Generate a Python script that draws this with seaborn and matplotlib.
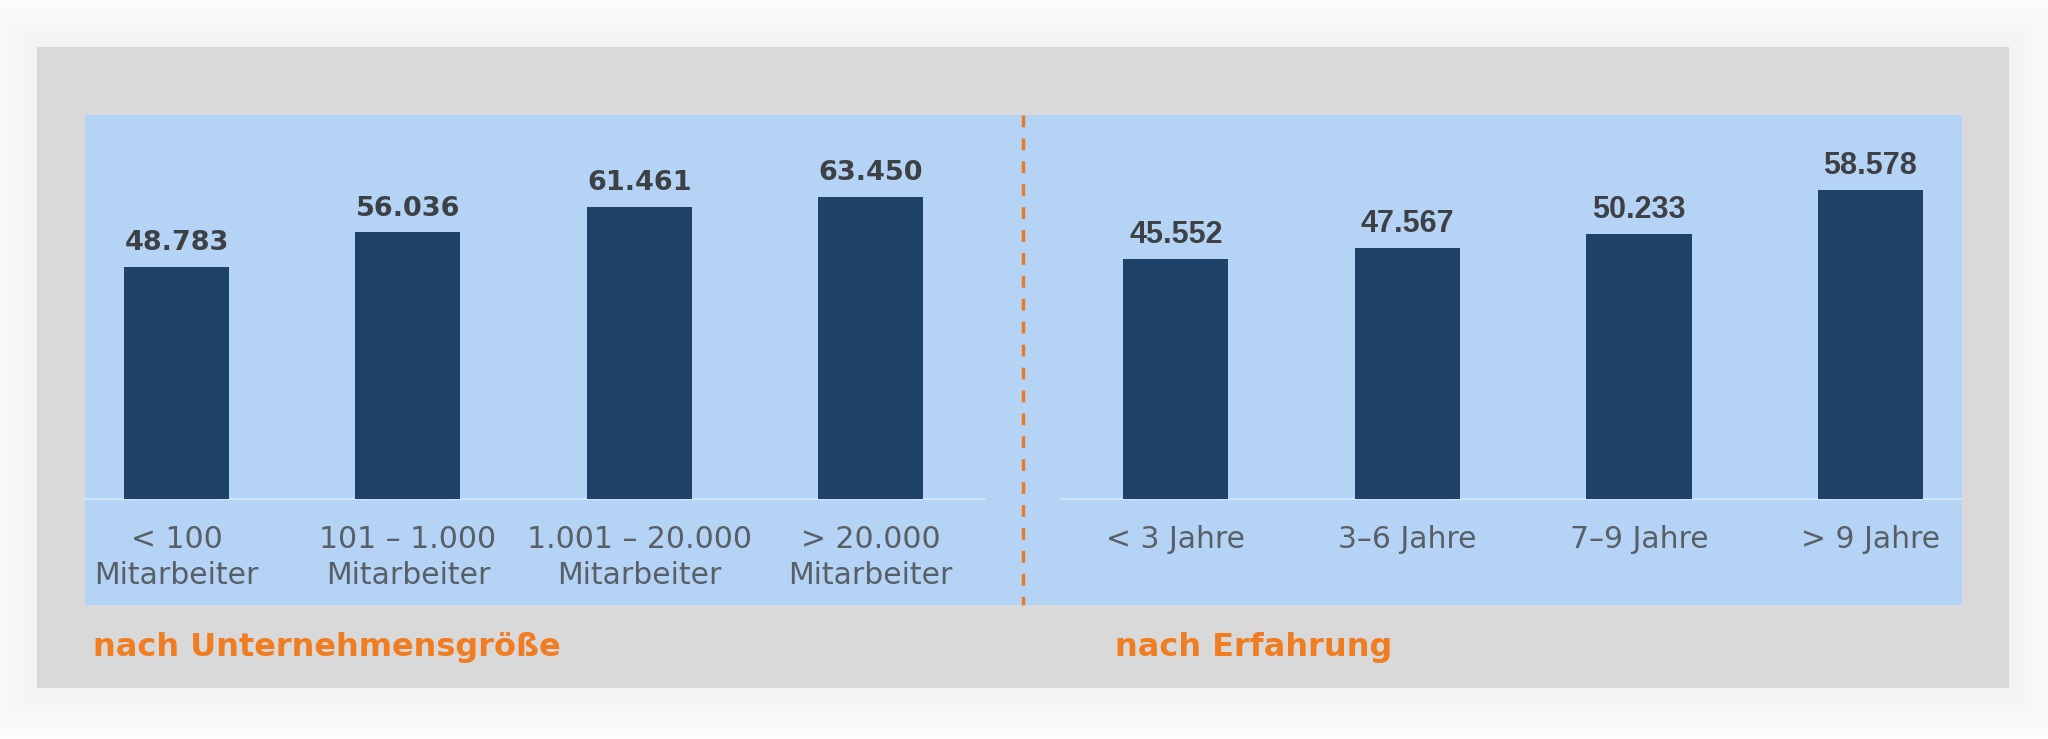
import matplotlib
matplotlib.use('Agg')
import matplotlib.pyplot as plt
import seaborn as sns
import pandas as pd
from matplotlib.patches import Rectangle
from matplotlib.lines import Line2D

# ---- data ----
size_labels = ['< 100\nMitarbeiter', '101 – 1.000\nMitarbeiter',
               '1.001 – 20.000\nMitarbeiter', '> 20.000\nMitarbeiter']
size_values = [48.783, 56.036, 61.461, 63.450]
exp_labels = ['< 3 Jahre', '3–6 Jahre', '7–9 Jahre', '> 9 Jahre']
exp_values = [45.552, 47.567, 50.233, 58.578]
size_title = 'nach Unternehmensgröße'
exp_title = 'nach Erfahrung'

# ---- style ----
sns.set_theme(style='white')
plt.rcParams['font.family'] = ['DejaVu Sans']

BAR = '#1f4269'
BLUE = '#b5d4f5'
GRAY = '#d9d9d9'
ORANGE = '#f07d22'
VALCOL = '#3d4045'
TICKCOL = '#585f67'
BASE = '#cde2f8'

W, H = 2048, 739
fig = plt.figure(figsize=(W / 100, H / 100), dpi=100)
fig.patch.set_facecolor('white')

def fx(px):
    return px / W

def fy(py):
    return 1 - py / H

# soft shadow around gray panel
for k in range(12, 0, -1):
    d = k * 5
    fig.patches.append(Rectangle((fx(37 - d), fy(688 + d)), fx(1972 + 2 * d), (641 + 2 * d) / H,
                                 transform=fig.transFigure, facecolor='black', alpha=0.0035,
                                 edgecolor='none', zorder=-12))
# gray panel
fig.patches.append(Rectangle((fx(37), fy(688)), fx(1972), 641 / H, transform=fig.transFigure,
                             facecolor=GRAY, edgecolor='none', zorder=-10))
# blue panel
fig.patches.append(Rectangle((fx(85), fy(605)), fx(1877), 490 / H, transform=fig.transFigure,
                             facecolor=BLUE, edgecolor='none', zorder=-9))

ax_bottom = fy(499)
ax_h = 384 / H
ax1 = fig.add_axes([fx(85), ax_bottom, fx(900), ax_h])
ax2 = fig.add_axes([fx(1060), ax_bottom, fx(902), ax_h])

panels = [
    (ax1, size_labels, size_values, 80.7, (-0.396, 3.495), 'DejaVu Sans', 19.5, 12),
    (ax2, exp_labels, exp_values, 72.9, (-0.50, 3.395), 'Liberation Sans', 22, 11.5),
]

for ax, labels, values, ytop, xl, vfont, vsize, voff in panels:
    df = pd.DataFrame({'cat': labels, 'val': values})
    sns.barplot(data=df, x='cat', y='val', order=labels, ax=ax, color=BAR,
                saturation=1, width=0.454, edgecolor='none')
    ax.set_facecolor('none')
    ax.set_xlim(*xl)
    ax.set_ylim(0, ytop)
    for s in ax.spines.values():
        s.set_visible(False)
    ax.axhline(0, color=BASE, lw=1.5, clip_on=False, zorder=0.5)
    ax.set_yticks([])
    ax.set_xlabel('')
    ax.set_ylabel('')
    ax.set_xticks(range(len(labels)))
    ax.set_xticklabels(labels, fontsize=21.5, color=TICKCOL, linespacing=1.3,
                       family='DejaVu Sans')
    ax.tick_params(axis='x', length=0, pad=19)
    for i, v in enumerate(values):
        ax.annotate(f'{v:.3f}', xy=(i, v), xytext=(0, voff), textcoords='offset points',
                    ha='center', va='baseline', fontsize=vsize, fontweight='bold',
                    color=VALCOL, family=vfont)

# dashed separator
fig.lines.append(Line2D([fx(1023), fx(1023)], [fy(115), fy(605)], transform=fig.transFigure,
                        color='#ea7a26', lw=2.5, linestyle=(0, (3.4, 3.2)), zorder=5))

# section titles
fig.text(fx(93), fy(656), size_title, fontsize=23, fontweight='bold', color=ORANGE,
         va='baseline', ha='left', family='DejaVu Sans')
fig.text(fx(1115), fy(656), exp_title, fontsize=23, fontweight='bold', color=ORANGE,
         va='baseline', ha='left', family='DejaVu Sans')

fig.savefig('out.png', dpi=100, facecolor=fig.get_facecolor())
